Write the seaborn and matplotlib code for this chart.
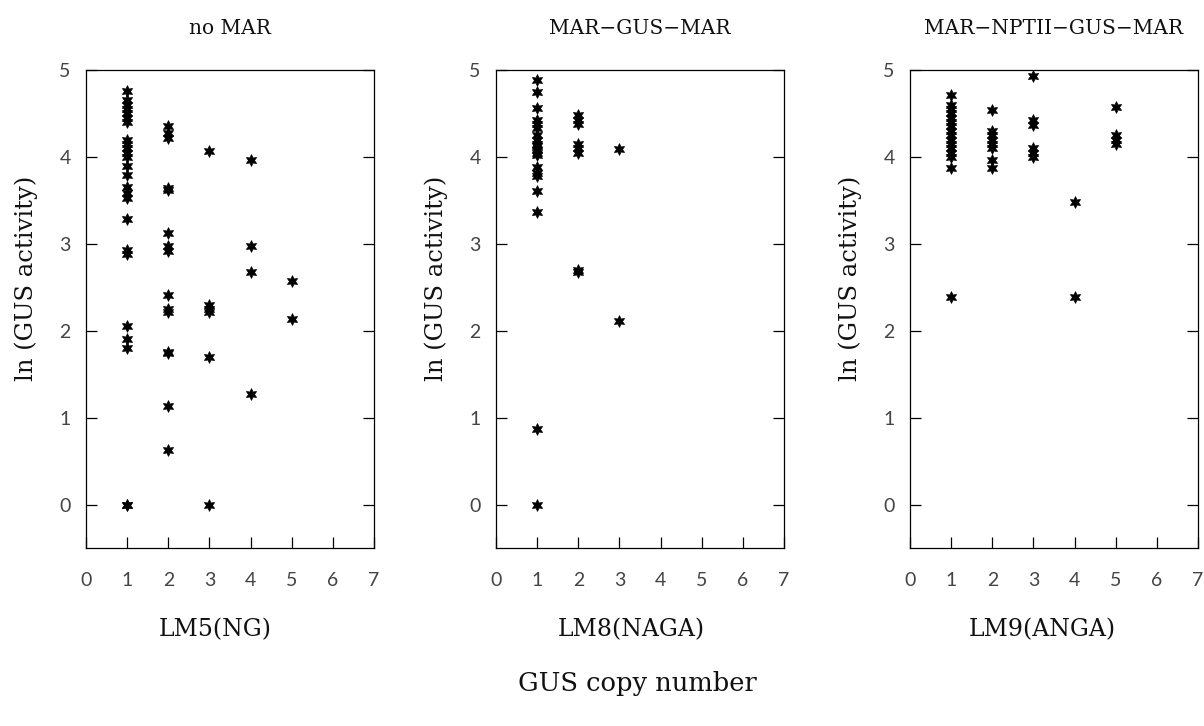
import matplotlib
matplotlib.use("Agg")
import matplotlib.pyplot as plt
import seaborn as sns
import pandas as pd

# ---- data ----
panel_titles = ["no MAR", "MAR\u2212GUS\u2212MAR", "MAR\u2212NPTII\u2212GUS\u2212MAR"]
panel_xlabels = ["LM5(NG)", "LM8(NAGA)", "LM9(ANGA)"]

nomar_copy = [1] * 25 + [2] * 15 + [3] * 6 + [4] * 4 + [5] * 2
nomar_ln = [4.76, 4.66, 4.6, 4.55, 4.5, 4.45, 4.4, 4.2, 4.15, 4.1, 4.05, 4.0,
            3.89, 3.79, 3.65, 3.58, 3.53, 3.28, 2.93, 2.88, 2.06, 1.91, 1.8, 0.0, 0.0,
            4.35, 4.28, 4.22, 3.64, 3.62, 3.12, 2.97, 2.92, 2.41, 2.25, 2.22, 1.76, 1.74,
            1.13, 0.63,
            4.07, 2.3, 2.25, 2.21, 1.7, 0.0,
            3.96, 2.98, 2.67, 1.27,
            2.57, 2.14]

nagamar_copy = [1] * 20 + [2] * 8 + [3] * 2
nagamar_ln = [4.88, 4.75, 4.56, 4.43, 4.38, 4.33, 4.25, 4.2, 4.15, 4.12, 4.08, 4.05,
              4.02, 3.88, 3.82, 3.78, 3.61, 3.37, 0.87, 0.0,
              4.48, 4.43, 4.38, 4.15, 4.1, 4.05, 2.7, 2.67,
              4.09, 2.11]

anga_copy = [1] * 16 + [2] * 8 + [3] * 6 + [4] * 2 + [5] * 4
anga_ln = [4.71, 4.6, 4.55, 4.5, 4.45, 4.4, 4.35, 4.3, 4.25, 4.2, 4.15, 4.1, 4.05,
           4.0, 3.87, 2.39,
           4.54, 4.3, 4.25, 4.2, 4.15, 4.1, 3.96, 3.87,
           4.93, 4.42, 4.37, 4.1, 4.05, 4.0,
           3.48, 2.39,
           4.58, 4.25, 4.2, 4.15]

x_ticks = [0, 1, 2, 3, 4, 5, 6, 7]
y_ticks = [0, 1, 2, 3, 4, 5]
supxlabel = "GUS copy number"
ylabel = "ln (GUS activity)"

panels = [
    pd.DataFrame({"copy": nomar_copy, "ln": nomar_ln}),
    pd.DataFrame({"copy": nagamar_copy, "ln": nagamar_ln}),
    pd.DataFrame({"copy": anga_copy, "ln": anga_ln}),
]

# ---- styling ----
sns.set_style("white")
plt.rcParams["font.family"] = ["DejaVu Serif", "DejaVu Sans"]

W, H = 1204, 726
fig = plt.figure(figsize=(W / 100, H / 100), dpi=100)

lefts = [86, 496, 910]
xlabel_pos = [0.45, 0.47, 0.46]
ax_w = 288
ax_top, ax_bot = 70, 548

star = (6, 1, 0)

for i, (df, left) in enumerate(zip(panels, lefts)):
    ax = fig.add_axes([left / W, 1 - ax_bot / H, ax_w / W, (ax_bot - ax_top) / H])
    sns.scatterplot(data=df, x="copy", y="ln", ax=ax, marker=star, s=70,
                    color="black", edgecolor="black", linewidth=0.6, legend=False)
    ax.set_xlim(0, 7)
    ax.set_ylim(-0.5, 5)
    ax.set_xticks(x_ticks)
    ax.set_yticks(y_ticks)
    ax.tick_params(axis="both", direction="in", length=8, width=0.9, color="black")
    ax.tick_params(axis="y", right=True, left=True, pad=11)
    ax.tick_params(axis="x", bottom=True, top=False, pad=17)
    for lab in ax.get_xticklabels() + ax.get_yticklabels():
        lab.set_fontfamily("Lato")
        lab.set_fontweight("normal")
        lab.set_fontsize(14)
        lab.set_color("#444444")
    for sp in ax.spines.values():
        sp.set_visible(True)
        sp.set_color("black")
        sp.set_linewidth(0.9)
    ax.set_xlabel(panel_xlabels[i], fontsize=17, color="#111111")
    ax.xaxis.set_label_coords(xlabel_pos[i], -0.146)
    ax.set_ylabel(ylabel, fontsize=17.5, color="#111111")
    ax.yaxis.set_label_coords(-0.165, 0.565)
    ax.set_title(panel_titles[i], fontsize=14.5, pad=26, color="#111111")

fig.text((496 + 0.49 * ax_w) / W, 1 - 683 / H, supxlabel, ha="center", va="center",
         fontsize=18.5, color="#111111")

fig.savefig("out.png", dpi=100, facecolor="white")
